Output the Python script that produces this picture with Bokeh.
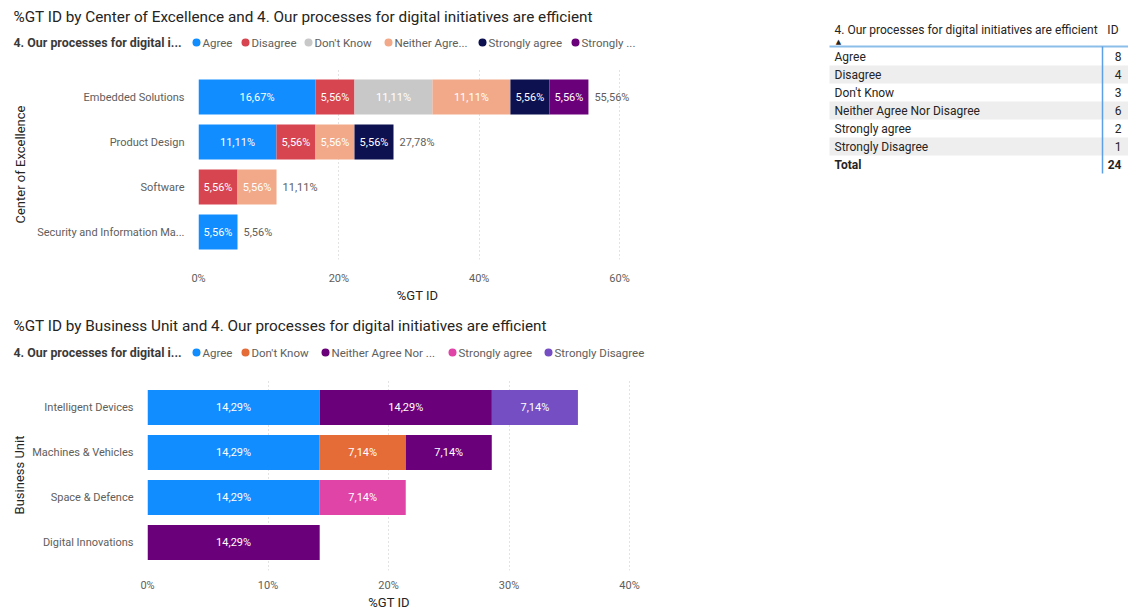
from bokeh.plotting import figure
from bokeh.models import (ColumnDataSource, FactorRange, Range1d, FixedTicker,
                          PrintfTickFormatter, LabelSet)
from bokeh.layouts import row, column
from bokeh.embed import file_html
from bokeh.resources import INLINE
from bokeh.core.properties import value

# ---------------- data: chart 1 (Center of Excellence) ----------------
coe_title = "%GT ID by Center of Excellence and 4. Our processes for digital initiatives are efficient"
coe_categories = ["Embedded Solutions", "Product Design", "Software", "Security and Information Ma..."]
coe_responses = ["Agree", "Disagree", "Don't Know", "Neither Agree Nor Disagree",
                 "Strongly agree", "Strongly Disagree"]
coe_legend_labels = ["Agree", "Disagree", "Don't Know", "Neither Agre...", "Strongly agree", "Strongly ..."]
coe_agree = [16.67, 11.11, 0, 5.56]
coe_disagree = [5.56, 5.56, 5.56, 0]
coe_dont_know = [11.11, 0, 0, 0]
coe_neither = [11.11, 5.56, 5.56, 0]
coe_strongly_agree = [5.56, 5.56, 0, 0]
coe_strongly_disagree = [5.56, 0, 0, 0]
coe_totals = [55.56, 27.78, 11.11, 5.56]
coe_colors = ["#118DFF", "#D64550", "#C8C8C8", "#F1A98A", "#0D1150", "#6B007B"]
coe_ticks = [0, 20, 40, 60]

# ---------------- data: chart 2 (Business Unit) ----------------
bu_title = "%GT ID by Business Unit and 4. Our processes for digital initiatives are efficient"
bu_categories = ["Intelligent Devices", "Machines & Vehicles", "Space & Defence", "Digital Innovations"]
bu_responses = ["Agree", "Don't Know", "Neither Agree Nor Disagree", "Strongly agree", "Strongly Disagree"]
bu_legend_labels = ["Agree", "Don't Know", "Neither Agree Nor ...", "Strongly agree", "Strongly Disagree"]
bu_agree = [14.29, 14.29, 14.29, 0]
bu_dont_know = [0, 7.14, 0, 0]
bu_neither = [14.29, 7.14, 0, 14.29]
bu_strongly_agree = [0, 0, 7.14, 0]
bu_strongly_disagree = [7.14, 0, 0, 0]
bu_colors = ["#118DFF", "#E66C37", "#6B007B", "#E044A7", "#744EC2"]
bu_ticks = [0, 10, 20, 30, 40]

# ---------------- data: table ----------------
table_header = "4. Our processes for digital initiatives are efficient"
table_answers = ["Agree", "Disagree", "Don't Know", "Neither Agree Nor Disagree",
                 "Strongly agree", "Strongly Disagree"]
table_ids = [8, 4, 3, 6, 2, 1]

LEGEND_HEADER = "4. Our processes for digital i..."
FONT = "Roboto"
DARK = "#252423"
GREY = "#605E5C"
COL_W = 660          # width of the left column (charts)
PAGE_W, PAGE_H = 1128, 612
BAND_PX = 45


def pct(v):
    return ("%.2f%%" % v).replace(".", ",")


def bare(width, height, x0, x1, y0, y1):
    f = figure(width=width, height=height, x_range=Range1d(x0, x1), y_range=Range1d(y1, y0),
               output_backend="svg", toolbar_location=None, title=None,
               x_axis_location=None, y_axis_location=None, min_border=0)
    f.grid.grid_line_color = None
    f.outline_line_color = None
    return f


def make_header(title, legend_labels, legend_dot_x, colors, height, title_y, legend_y):
    h = bare(COL_W, height, 0, COL_W, 0, height)
    h.text(x=[13], y=[title_y], text=[title], text_font=value(FONT), text_font_size="15.3px",
           text_color=DARK, text_baseline="middle")
    h.text(x=[13], y=[legend_y], text=[LEGEND_HEADER], text_font=value(FONT),
           text_font_size="12.4px", text_font_style="bold", text_color="#3B3A39",
           text_baseline="middle")
    h.scatter(x=legend_dot_x, y=[legend_y] * len(legend_dot_x), marker="circle", size=8,
              color=colors, line_color=None)
    h.text(x=[d + 6 for d in legend_dot_x], y=[legend_y] * len(legend_dot_x), text=legend_labels,
           text_font=value(FONT), text_font_size="11.5px", text_color=GREY, text_baseline="middle")
    return h


def make_chart(cats, responses, series, colors, totals, ticks, x_end, y_title,
               fig_top, height, frame_top, frame_bottom, frame_left, frame_right,
               tick_standoff, title_standoff, ytitle_standoff):
    frame_h = frame_bottom - frame_top
    pad = (frame_h / BAND_PX - len(cats)) / len(cats)
    p = figure(width=COL_W, height=height,
               y_range=FactorRange(*reversed(cats), range_padding=pad),
               x_range=Range1d(0, x_end),
               output_backend="svg", toolbar_location=None, title=None,
               min_border_left=frame_left,
               min_border_right=COL_W - frame_right,
               min_border_top=frame_top - fig_top,
               min_border_bottom=fig_top + height - frame_bottom)
    data = {"cat": cats}
    for name, vals in zip(responses, series):
        data[name] = vals
    src = ColumnDataSource(data)
    p.hbar_stack(responses, y="cat", height=0.78, color=colors, source=src, line_color=None)

    # segment labels
    lx, ly, lt = [], [], []
    for i, c in enumerate(cats):
        left = 0.0
        for vals in series:
            v = vals[i]
            if v > 0:
                lx.append(left + v / 2.0)
                ly.append(c)
                lt.append(pct(v))
            left += v
    seg_src = ColumnDataSource(dict(x=lx, y=ly, text=lt))
    p.add_layout(LabelSet(x="x", y="y", text="text", source=seg_src,
                          text_align="center", text_baseline="middle",
                          text_color="white", text_font=value(FONT), text_font_size="11px"))
    if totals is not None:
        stack_ends = [sum(vals[i] for vals in series) for i in range(len(cats))]
        tot_src = ColumnDataSource(dict(x=stack_ends, y=cats, text=[pct(t) for t in totals]))
        p.add_layout(LabelSet(x="x", y="y", text="text", source=tot_src, x_offset=6,
                              text_align="left", text_baseline="middle",
                              text_color=GREY, text_font=value(FONT), text_font_size="11px"))

    # axes
    p.xaxis.ticker = FixedTicker(ticks=ticks)
    p.xaxis.formatter = PrintfTickFormatter(format="%d%%")
    p.xaxis.axis_label = "%GT ID"
    p.yaxis.axis_label = y_title
    for ax in (p.xaxis, p.yaxis):
        ax.axis_line_color = None
        ax.major_tick_line_color = None
        ax.minor_tick_line_color = None
        ax.major_label_text_color = GREY
        ax.major_label_text_font = FONT
        ax.major_label_text_font_size = "11px"
        ax.axis_label_text_font = FONT
        ax.axis_label_text_font_size = "13px"
        ax.axis_label_text_font_style = "normal"
        ax.axis_label_text_color = DARK
    p.xaxis.major_label_standoff = tick_standoff
    p.xaxis.axis_label_standoff = title_standoff
    p.yaxis.major_label_standoff = 8
    p.yaxis.axis_label_standoff = ytitle_standoff
    p.ygrid.grid_line_color = None
    p.xgrid.grid_line_color = "#C8C6C4"
    p.xgrid.grid_line_dash = "1 3"
    p.outline_line_color = None
    return p


head1 = make_header(coe_title, coe_legend_labels, [196, 245, 308, 388, 482, 575], coe_colors,
                    height=62, title_y=16, legend_y=42)
chart1 = make_chart(coe_categories, coe_responses,
                    [coe_agree, coe_disagree, coe_dont_know, coe_neither,
                     coe_strongly_agree, coe_strongly_disagree],
                    coe_colors, coe_totals, coe_ticks, (636 - 198) / 7.017, "Center of Excellence",
                    fig_top=62, height=248, frame_top=69, frame_bottom=259,
                    frame_left=198, frame_right=636, tick_standoff=6, title_standoff=0,
                    ytitle_standoff=6)

head2 = make_header(bu_title, bu_legend_labels, [196, 245, 325, 452, 548], bu_colors,
                    height=58, title_y=15, legend_y=42)
chart2 = make_chart(bu_categories, bu_responses,
                    [bu_agree, bu_dont_know, bu_neither, bu_strongly_agree, bu_strongly_disagree],
                    bu_colors, None, bu_ticks, (630 - 147) / 12.05, "Business Unit",
                    fig_top=368, height=244, frame_top=379, frame_bottom=570,
                    frame_left=147, frame_right=630, tick_standoff=2, title_standoff=0,
                    ytitle_standoff=2)

# ---------------- table (figure in page pixel coordinates) ----------------
t = bare(PAGE_W - COL_W, PAGE_H, COL_W, PAGE_W, 0, PAGE_H)
ROW_TOP, ROW_H = 47, 18
n = len(table_answers)
band_idx = [i for i in range(n) if i % 2 == 1]
t.quad(left=829, right=PAGE_W, top=[ROW_TOP + ROW_H * i for i in band_idx],
       bottom=[ROW_TOP + ROW_H * (i + 1) for i in band_idx], color="#EEEEEE", line_color=None)
row_y = [ROW_TOP + ROW_H * i + ROW_H / 2 for i in range(n + 1)]
t.text(x=834, y=row_y[:n], text=table_answers, text_font=value(FONT), text_font_size="12px",
       text_color=DARK, text_baseline="middle")
t.text(x=1121, y=row_y[:n], text=[str(v) for v in table_ids], text_font=value(FONT),
       text_font_size="12px", text_color=DARK, text_baseline="middle", text_align="right")
t.text(x=[834], y=[row_y[n]], text=["Total"], text_font=value(FONT), text_font_size="12px",
       text_font_style="bold", text_color=DARK, text_baseline="middle")
t.text(x=[1121], y=[row_y[n]], text=[str(sum(table_ids))], text_font=value(FONT),
       text_font_size="12px", text_font_style="bold", text_color=DARK,
       text_baseline="middle", text_align="right")
t.text(x=[834], y=[29], text=[table_header], text_font=value(FONT), text_font_size="12px",
       text_color=DARK, text_baseline="middle")
t.text(x=[1118], y=[29], text=["ID"], text_font=value(FONT), text_font_size="12px",
       text_color=DARK, text_baseline="middle", text_align="right")
t.text(x=[838], y=[41], text=["\u25B2"], text_font=value("DejaVu Sans"), text_font_size="7px",
       text_color=DARK, text_baseline="middle", text_align="center")
t.segment(x0=[829], y0=[46], x1=[PAGE_W], y1=[46], line_color="#8CBEEA", line_width=2)
t.segment(x0=[1102], y0=[46], x1=[1102], y1=[ROW_TOP + ROW_H * (n + 1)], line_color="#5EA0E6",
          line_width=1.5)

left = column(row(head1), row(chart1), row(head2), row(chart2))
layout = row(left, row(t))
open("out.html", "w").write(file_html(layout, INLINE))
